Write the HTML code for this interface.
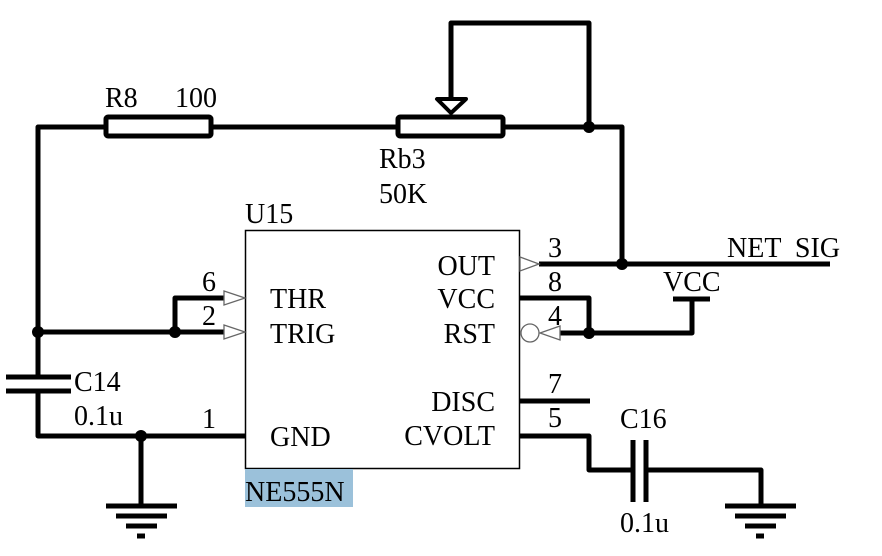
<!DOCTYPE html>
<html><head><meta charset="utf-8"><style>
html,body{margin:0;padding:0;background:#fff;}
svg{display:block;}
text{font-family:"Liberation Serif",serif;font-size:28px;fill:#000;white-space:pre;}
</style></head><body>
<svg width="882" height="556" viewBox="0 0 882 556" xmlns="http://www.w3.org/2000/svg">
<g fill="none" stroke="#000" stroke-width="5" stroke-linejoin="round" stroke-linecap="butt">
<polyline points="38,375 38,127 106,127"/>
<line x1="211" y1="127" x2="398" y2="127"/>
<polyline points="503,127 622,127 622,264"/>
<polyline points="451,99 451,23 589,23 589,127"/>
<rect x="106" y="117" width="105" height="19" rx="2"/>
<rect x="398" y="117" width="105" height="19" rx="2"/>
<polygon points="437,99 466,99 451,113" stroke-width="4"/>
<line x1="38" y1="332" x2="224" y2="332"/>
<polyline points="224,298 175,298 175,332"/>
<line x1="6" y1="377" x2="71" y2="377"/>
<line x1="6" y1="391" x2="71" y2="391"/>
<polyline points="38,391 38,436 245,436"/>
<line x1="141" y1="436" x2="141" y2="506"/>
<line x1="106" y1="506" x2="177" y2="506"/>
<line x1="116" y1="516" x2="167" y2="516"/>
<line x1="126" y1="526" x2="157" y2="526"/>
<line x1="137" y1="536" x2="145" y2="536"/>
<line x1="539" y1="264" x2="830" y2="264"/>
<polyline points="519,298 589,298 589,333"/>
<polyline points="560,333 692,333 692,299"/>
<line x1="673" y1="299" x2="710" y2="299"/>
<line x1="519" y1="401" x2="590" y2="401"/>
<polyline points="519,436 589,436 589,470 633,470"/>
<line x1="633" y1="440" x2="633" y2="502"/>
<line x1="646" y1="440" x2="646" y2="502"/>
<polyline points="646,470 761,470 761,506"/>
<line x1="725" y1="506" x2="796" y2="506"/>
<line x1="735" y1="516" x2="786" y2="516"/>
<line x1="745" y1="526" x2="776" y2="526"/>
<line x1="756" y1="536" x2="764" y2="536"/>
</g>
<g fill="#000">
<circle cx="589" cy="127" r="6"/>
<circle cx="622" cy="264" r="6"/>
<circle cx="38" cy="332" r="6"/>
<circle cx="175" cy="332" r="6"/>
<circle cx="141" cy="436" r="6"/>
<circle cx="589" cy="333" r="6"/>
</g>
<rect x="245.5" y="230.5" width="274" height="238" fill="none" stroke="#000" stroke-width="1.5"/>
<rect x="245" y="469" width="108" height="38" fill="#9bc1da"/>
<g fill="#fff" stroke="#666" stroke-width="1.3">
<polygon points="224,291 245,298 224,305"/>
<polygon points="224,325 245,332 224,339"/>
<polygon points="520,257 539,264 520,271"/>
<polygon points="560,326 540,333 560,340"/>
<circle cx="530" cy="333" r="9"/>
</g>
<text x="105" y="107">R8</text>
<text x="175" y="107">100</text>
<text x="379" y="168">Rb3</text>
<text x="379" y="203">50K</text>
<text x="245" y="223">U15</text>
<text x="270" y="308">THR</text>
<text x="270" y="343">TRIG</text>
<text x="270" y="446">GND</text>
<text x="495" y="275" text-anchor="end">OUT</text>
<text x="495" y="308" text-anchor="end">VCC</text>
<text x="495" y="343" text-anchor="end">RST</text>
<text x="495" y="411" text-anchor="end">DISC</text>
<text x="495" y="445" text-anchor="end">CVOLT</text>
<text x="245" y="501">NE555N</text>
<text x="202" y="291">6</text>
<text x="202" y="325">2</text>
<text x="202" y="428">1</text>
<text x="548" y="257">3</text>
<text x="548" y="291">8</text>
<text x="548" y="325">4</text>
<text x="548" y="393">7</text>
<text x="548" y="427">5</text>
<text x="727" y="257">NET  SIG</text>
<text x="663" y="291">VCC</text>
<text x="74" y="391">C14</text>
<text x="74" y="425">0.1u</text>
<text x="620" y="428">C16</text>
<text x="620" y="532">0.1u</text>
</svg>
</body></html>
